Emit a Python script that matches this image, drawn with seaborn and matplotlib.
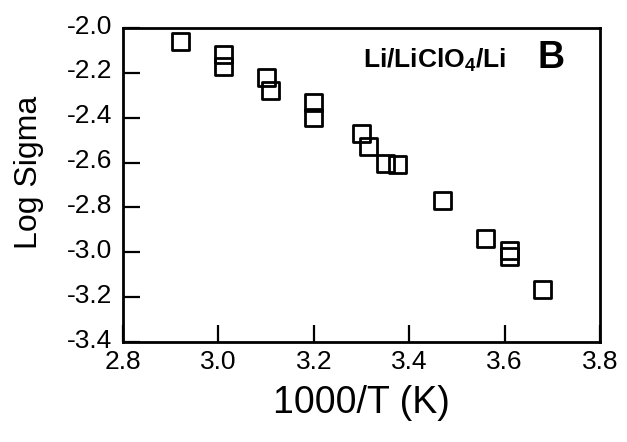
import matplotlib
matplotlib.use("Agg")
import matplotlib.pyplot as plt
import matplotlib.transforms as mtransforms
import seaborn as sns
import pandas as pd

# Data
inv_T = [2.92, 3.01, 3.01, 3.10, 3.11, 3.20, 3.20, 3.30, 3.315, 3.35, 3.375,
         3.47, 3.56, 3.61, 3.61, 3.68]
log_sigma = [-2.06, -2.12, -2.17, -2.22, -2.28, -2.33, -2.40, -2.47, -2.53,
             -2.605, -2.61, -2.77, -2.94, -2.99, -3.02, -3.165]
x_ticks = [2.8, 3.0, 3.2, 3.4, 3.6, 3.8]
y_ticks = [-2.0, -2.2, -2.4, -2.6, -2.8, -3.0, -3.2, -3.4]

df = pd.DataFrame({"x": inv_T, "y": log_sigma})

sns.set_theme(style="white")
plt.rcParams["font.family"] = ["Liberation Sans", "DejaVu Sans"]
plt.rcParams["mathtext.fontset"] = "custom"
plt.rcParams["mathtext.rm"] = "Liberation Sans"
plt.rcParams["mathtext.bf"] = "Liberation Sans:bold"
plt.rcParams["text.color"] = "black"
plt.rcParams["axes.labelcolor"] = "black"
plt.rcParams["xtick.color"] = "black"
plt.rcParams["ytick.color"] = "black"

fig = plt.figure(figsize=(6.27, 4.42), dpi=100)
ax = fig.add_axes([123 / 627, 1 - 342 / 442, 477 / 627, 314 / 442])

sns.scatterplot(data=df, x="x", y="y", ax=ax, marker="s", s=150,
                facecolor="none", edgecolor="black", linewidth=2.0, legend=False)

ax.set_xlim(2.8, 3.8)
ax.set_ylim(-3.4, -2.0)
ax.set_xticks(x_ticks)
ax.set_xticklabels([f"{t:.1f}" for t in x_ticks])
ax.set_yticks(y_ticks)
ax.set_yticklabels([f"{t:.1f}" for t in y_ticks])

for s in ax.spines.values():
    s.set_visible(True)
    s.set_color("black")
    s.set_linewidth(2.0)

ax.tick_params(axis="both", direction="in", length=12, width=1.6, color="black",
               labelcolor="black")
ax.tick_params(axis="x", labelsize=19, pad=6)
ax.tick_params(axis="y", labelsize=19, pad=8)
ax.tick_params(top=False, right=False, bottom=True, left=True)

# reference y tick labels sit slightly above their ticks
shift = mtransforms.ScaledTranslation(0, 4 / 100, fig.dpi_scale_trans)
for lbl in ax.get_yticklabels():
    lbl.set_transform(lbl.get_transform() + shift)

ax.set_xlabel("1000/T (K)", fontsize=27, labelpad=8)
ax.set_ylabel("Log Sigma", fontsize=23)
ax.yaxis.set_label_coords(-0.165, 0.54)

ax.text(0.503, 0.873, r"Li/LiClO$_{\mathbf{4}}$/Li", transform=ax.transAxes,
        fontsize=19, fontweight="bold", ha="left", va="baseline")
ax.text(0.87, 0.873, "B", transform=ax.transAxes,
        fontsize=27, fontweight="bold", ha="left", va="baseline")

fig.savefig("out.png", dpi=100)
